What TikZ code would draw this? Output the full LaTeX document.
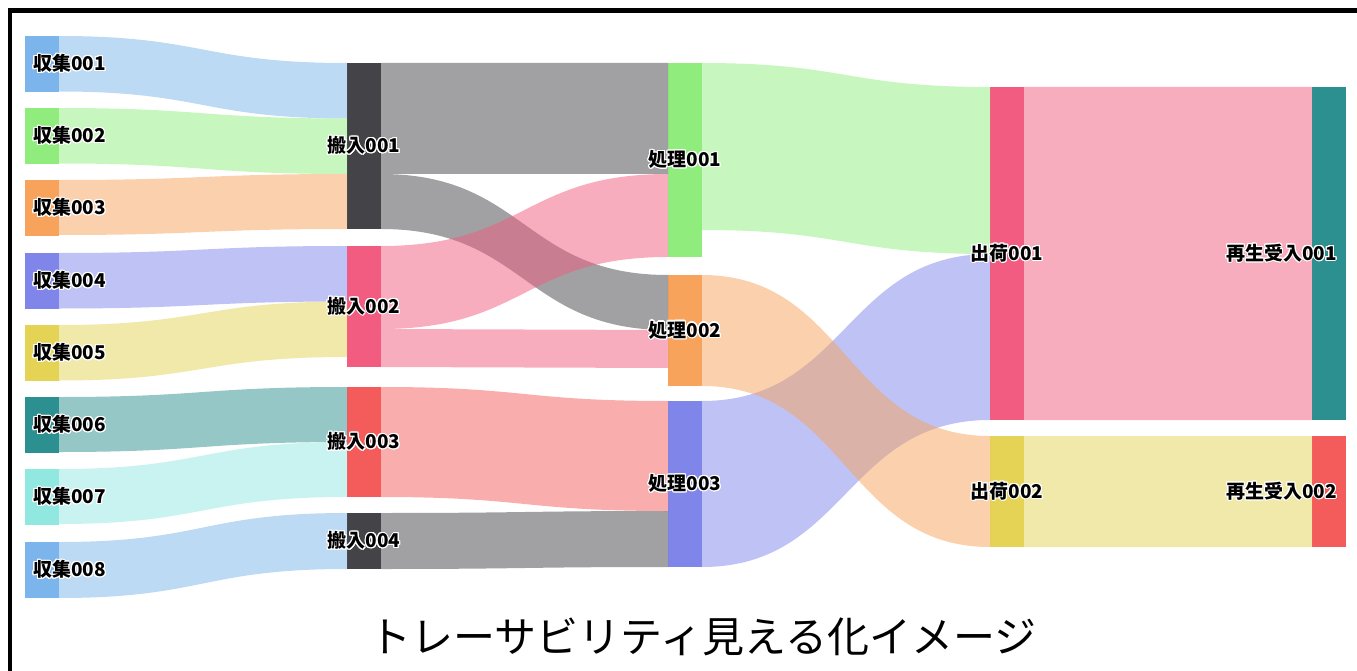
\documentclass[tikz,border=0pt]{standalone}
\usepackage{fontspec}
\newfontfamily\jpfont{Noto Sans CJK JP}
\usepackage{contour}
\contourlength{1.1pt}
\usetikzlibrary{calc}

\definecolor{hcblue}{HTML}{7CB5EC}
\definecolor{hcdark}{HTML}{434348}
\definecolor{hcgreen}{HTML}{90ED7D}
\definecolor{hcorange}{HTML}{F7A35C}
\definecolor{hcpurple}{HTML}{8085E9}
\definecolor{hcpink}{HTML}{F15C80}
\definecolor{hcyellow}{HTML}{E4D354}
\definecolor{hcteal}{HTML}{2B908F}
\definecolor{hcred}{HTML}{F45B5B}
\definecolor{hcaqua}{HTML}{91E8E1}

\tikzset{
	bar/.style={rectangle, inner sep=0pt, outer sep=0pt, minimum width=34, anchor=north west},
	lab/.style={font=\jpfont\bfseries\fontsize{19}{19}\selectfont, inner sep=0pt, text=black},
}

% band from #2 (offset #3) to #4 (offset #5), width #6
\newcommand{\flow}[6]{%
	\fill[#1, opacity=.5] ($(#2.north east)+(0,#3)$)
		.. controls +(144,0) and +(-144,0) .. ($(#4.north west)+(0,#5)$)
		-- ($(#4.north west)+(0,#5+#6)$)
		.. controls +(-144,0) and +(144,0) .. ($(#2.north east)+(0,#3+#6)$) -- cycle;}

\begin{document}
\begin{tikzpicture}[x=1pt, y=-1pt]
	\useasboundingbox (0,0) rectangle (1357,671);
	\draw[line width=4.5pt] (10,671)--(10,10.5)--(1357,10.5);

	% 収集
	\node[bar, fill=hcblue, minimum height=56] (s1) at (25,36) {};
	\node[bar, fill=hcgreen, minimum height=56] (s2) at (25,108) {};
	\node[bar, fill=hcorange, minimum height=56] (s3) at (25,180) {};
	\node[bar, fill=hcpurple, minimum height=56] (s4) at (25,253) {};
	\node[bar, fill=hcyellow, minimum height=56] (s5) at (25,325) {};
	\node[bar, fill=hcteal, minimum height=56] (s6) at (25,397) {};
	\node[bar, fill=hcaqua, minimum height=56] (s7) at (25,469) {};
	\node[bar, fill=hcblue, minimum height=56] (s8) at (25,542) {};
	% 搬入
	\node[bar, fill=hcdark, minimum height=166] (h1) at (347,63) {};
	\node[bar, fill=hcpink, minimum height=121] (h2) at (347,246) {};
	\node[bar, fill=hcred, minimum height=110] (h3) at (347,387) {};
	\node[bar, fill=hcdark, minimum height=56] (h4) at (347,513) {};
	% 処理
	\node[bar, fill=hcgreen, minimum height=194] (p1) at (668,63) {};
	\node[bar, fill=hcorange, minimum height=111] (p2) at (668,275) {};
	\node[bar, fill=hcpurple, minimum height=166] (p3) at (668,401) {};
	% 出荷
	\node[bar, fill=hcpink, minimum height=333] (d1) at (990,87) {};
	\node[bar, fill=hcyellow, minimum height=111] (d2) at (990,436) {};
	% 再生受入
	\node[bar, fill=hcteal, minimum height=333] (r1) at (1312,87) {};
	\node[bar, fill=hcred, minimum height=111] (r2) at (1312,436) {};

	\flow{hcblue}{s1}{0}{h1}{0}{55.5}
	\flow{hcgreen}{s2}{0}{h1}{55.5}{55.5}
	\flow{hcorange}{s3}{0}{h1}{111}{55}
	\flow{hcpurple}{s4}{0}{h2}{0}{55.5}
	\flow{hcyellow}{s5}{0}{h2}{55.5}{55.5}
	\flow{hcteal}{s6}{0}{h3}{0}{55}
	\flow{hcaqua}{s7}{0}{h3}{55}{55}
	\flow{hcblue}{s8}{0}{h4}{0}{56}

	\flow{hcdark}{h1}{0}{p1}{0}{111}
	\flow{hcdark}{h1}{111}{p2}{0}{55}
	\flow{hcpink}{h2}{0}{p1}{111}{83}
	\flow{hcpink}{h2}{83}{p2}{55}{38}
	\flow{hcred}{h3}{0}{p3}{0}{110}
	\flow{hcdark}{h4}{0}{p3}{110}{56}

	\flow{hcgreen}{p1}{0}{d1}{0}{167}
	\flow{hcpurple}{p3}{0}{d1}{167}{166}
	\flow{hcorange}{p2}{0}{d2}{0}{111}

	\flow{hcpink}{d1}{0}{r1}{0}{333}
	\flow{hcyellow}{d2}{0}{r2}{0}{111}

	\node[lab, anchor=west] at ($(s1.west)+(8,0)$) {\contour{white}{収集001}};
	\node[lab, anchor=west] at ($(s2.west)+(8,0)$) {\contour{white}{収集002}};
	\node[lab, anchor=west] at ($(s3.west)+(8,0)$) {\contour{white}{収集003}};
	\node[lab, anchor=west] at ($(s4.west)+(8,0)$) {\contour{white}{収集004}};
	\node[lab, anchor=west] at ($(s5.west)+(8,0)$) {\contour{white}{収集005}};
	\node[lab, anchor=west] at ($(s6.west)+(8,0)$) {\contour{white}{収集006}};
	\node[lab, anchor=west] at ($(s7.west)+(8,0)$) {\contour{white}{収集007}};
	\node[lab, anchor=west] at ($(s8.west)+(8,0)$) {\contour{white}{収集008}};
	\node[lab] at (h1) {\contour{white}{搬入001}};
	\node[lab] at (h2) {\contour{white}{搬入002}};
	\node[lab] at (h3) {\contour{white}{搬入003}};
	\node[lab] at (h4) {\contour{white}{搬入004}};
	\node[lab] at (p1) {\contour{white}{処理001}};
	\node[lab] at (p2) {\contour{white}{処理002}};
	\node[lab] at (p3) {\contour{white}{処理003}};
	\node[lab] at (d1) {\contour{white}{出荷001}};
	\node[lab] at (d2) {\contour{white}{出荷002}};
	\node[lab, anchor=east] at ($(r1.east)+(-9,0)$) {\contour{white}{再生受入001}};
	\node[lab, anchor=east] at ($(r2.east)+(-9,0)$) {\contour{white}{再生受入002}};

	\node[font=\jpfont\fontsize{42}{42}\selectfont, inner sep=0pt] (title) at (703,637) {トレーサビリティ見える化イメージ};
\end{tikzpicture}
\end{document}
